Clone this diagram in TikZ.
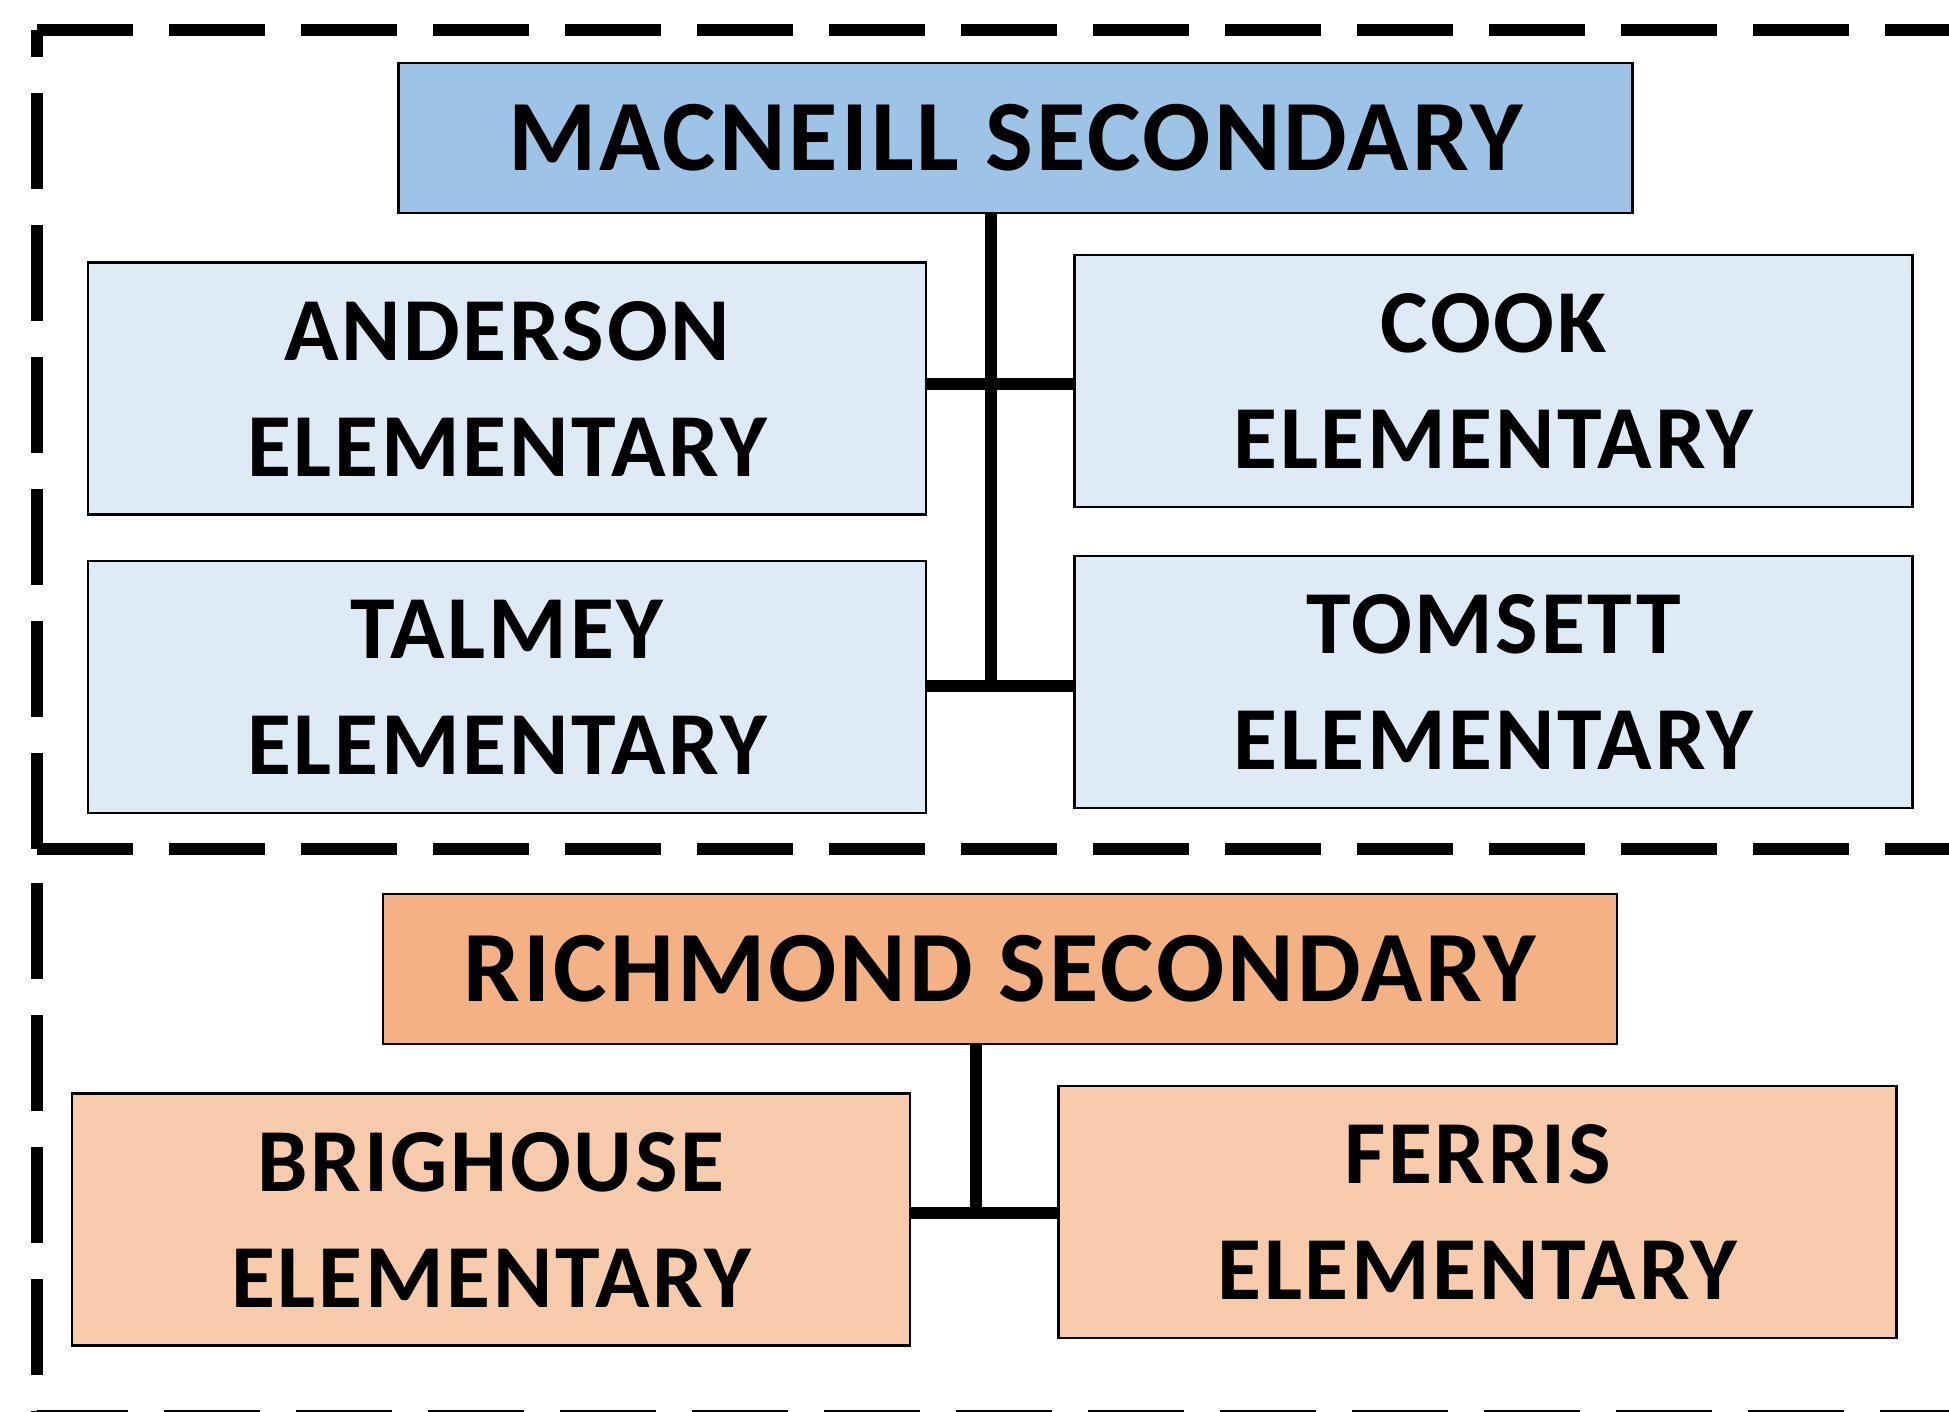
\documentclass[tikz,border=0pt]{standalone}
\usepackage{fontspec}
\setmainfont{Carlito}[LetterSpace=3]
\usepackage{xcolor}
\usepackage{tikz}

\definecolor{macblue}{RGB}{157,195,230}
\definecolor{paleblue}{RGB}{222,235,247}
\definecolor{richorange}{RGB}{244,177,131}
\definecolor{paleorange}{RGB}{248,203,173}

\begin{document}
\begin{tikzpicture}[
        x=0.5pt, y=-0.5pt,
        school/.style={rectangle, draw=black, line width=1.2pt, inner sep=0pt, outer sep=0pt,
            align=center, font=\bfseries\fontsize{45}{58}\selectfont,
            minimum width=419pt, minimum height=126pt},
        secondary/.style={school, font=\bfseries\fontsize{50.5}{64}\selectfont,
            minimum width=617pt, minimum height=75pt},
        link/.style={line width=6pt},
        frame/.style={line width=6pt, dash pattern=on 48pt off 18pt}
    ]
    \useasboundingbox (0,0) rectangle (1949,1412);
    \clip (0,0) rectangle (1949,1412);

    % Dashed frames round the two groups
    \draw[frame] (37,849) -- (37,30);
    \draw[frame] (37,30) -- (1960,30);
    \draw[frame] (37,849) -- (1960,849);
    \draw[frame] (37,883) -- (37,1416) -- (1960,1416);

    % MacNeill group
    \node[secondary, fill=macblue] (mac) at (1015.5,138) {MACNEILL SECONDARY};
    \node[school, fill=paleblue] (anderson) at (507,388.5) {ANDERSON\\ELEMENTARY};
    \node[school, fill=paleblue] (cook) at (1493.5,381) {COOK\\ELEMENTARY};
    \node[school, fill=paleblue] (talmey) at (507,687) {TALMEY\\ELEMENTARY};
    \node[school, fill=paleblue] (tomsett) at (1493.5,682) {TOMSETT\\ELEMENTARY};

    \coordinate (macjoin) at (991,384);
    \coordinate (macspine) at (991,686);
    \draw[link] (mac.south -| macspine) -- (macspine);
    \draw[link] (anderson.east |- macjoin) -- (cook.west |- macjoin);
    \draw[link] (talmey.east |- macspine) -- (tomsett.west |- macspine);

    % Richmond group
    \node[secondary, fill=richorange] (rich) at (1000,969) {RICHMOND SECONDARY};
    \node[school, fill=paleorange] (brighouse) at (491,1219.5) {BRIGHOUSE\\ELEMENTARY};
    \node[school, fill=paleorange] (ferris) at (1477.5,1212) {FERRIS\\ELEMENTARY};

    \coordinate (richspine) at (976,1213);
    \draw[link] (rich.south -| richspine) -- (richspine);
    \draw[link] (brighouse.east |- richspine) -- (ferris.west |- richspine);

\end{tikzpicture}
\end{document}
